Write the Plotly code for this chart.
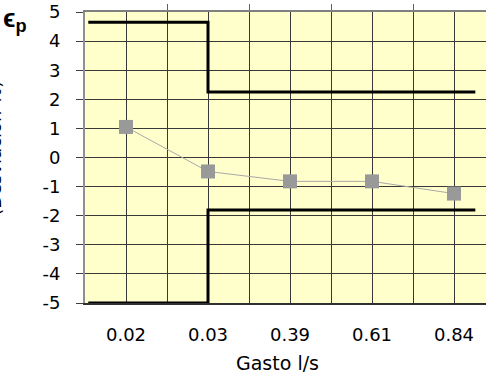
import plotly.graph_objects as go

# ---- data ----
categories = ["0.02", "0.03", "0.39", "0.61", "0.84"]
error_values = [1.05, -0.48, -0.82, -0.82, -1.24]

# limit (step) lines, x in category-index units
limit_x = [-0.46, 1.0, 1.0, 4.26]
upper_limit = [4.65, 4.65, 2.25, 2.25]
lower_limit = [-5.0, -5.0, -1.8, -1.8]

y_ticks = [-5, -4, -3, -2, -1, 0, 1, 2, 3, 4, 5]
y_ticktext = ["-5", "-4", "-3", "-2", "-1", "0", "1", "2", "3", "4", "5"]

FONT = "DejaVu Sans, Arial, sans-serif"
x_idx = list(range(len(categories)))
x_range = [-0.5, 4.39]
GRID = "#383838"

fig = go.Figure()
fig.add_trace(go.Scatter(x=limit_x, y=upper_limit, mode="lines",
                         line=dict(color="black", width=3), showlegend=False, hoverinfo="skip"))
fig.add_trace(go.Scatter(x=limit_x, y=lower_limit, mode="lines",
                         line=dict(color="black", width=3), showlegend=False, hoverinfo="skip"))
fig.add_trace(go.Scatter(x=x_idx, y=error_values, mode="lines+markers",
                         line=dict(color="#A8A8A8", width=1),
                         marker=dict(symbol="square", size=14, color="#999999",
                                     line=dict(color="#999999", width=0)),
                         showlegend=False))
# invisible trace on top axis so it renders
fig.add_trace(go.Scatter(x=[0], y=[0], xaxis="x2", mode="markers",
                         marker=dict(opacity=0), showlegend=False, hoverinfo="skip"))

fig.update_layout(
    width=486, height=376,
    margin=dict(l=85, r=0, t=12, b=73),
    paper_bgcolor="white",
    plot_bgcolor="#FFFFCC",
    font=dict(family=FONT, size=18, color="black"),
    xaxis=dict(
        range=x_range, tickvals=x_idx, ticktext=categories,
        showgrid=True, gridcolor=GRID, gridwidth=1,
        minor=dict(tickvals=[0.5, 1.5, 2.5, 3.5], showgrid=True, gridcolor=GRID, gridwidth=1),
        ticks="", ticklabelstandoff=14,
        showline=True, linecolor="#303030", linewidth=2,
        zeroline=False, automargin=False,
        tickfont=dict(size=18),
    ),
    xaxis2=dict(
        range=x_range, overlaying="x", side="top",
        tickvals=[0.5, 1.5, 2.5, 3.5], ticks="outside", ticklen=6, tickcolor="#606060",
        showticklabels=False, showgrid=False, zeroline=False,
        showline=True, linecolor="#808080", linewidth=2, automargin=False,
    ),
    yaxis=dict(
        range=[-5, 5], tickvals=y_ticks, ticktext=y_ticktext,
        showgrid=True, gridcolor=GRID, gridwidth=1,
        ticks="outside", ticklen=7, tickcolor="#404040",
        ticklabelstandoff=12,
        showline=True, linecolor="#909090", linewidth=2,
        zeroline=False, automargin=False,
        tickfont=dict(size=18),
    ),
    annotations=[
        dict(text="Gasto l/s", xref="paper", yref="paper", x=0.479, y=-0.206,
             xanchor="center", yanchor="middle", showarrow=False, font=dict(size=19)),
        dict(text="<b>ϵ<sub>p</sub></b>", xref="paper", yref="paper", x=-0.21, y=1.038,
             xanchor="left", yanchor="top", showarrow=False,
             font=dict(size=26, family="Liberation Sans, Arial, sans-serif")),
        dict(text="(Desviación %)", xref="paper", yref="paper", x=-0.2245, y=0.533,
             xanchor="center", yanchor="middle", showarrow=False, textangle=-90,
             font=dict(size=18)),
    ],
)

fig.write_html("out.html",
               config={"displayModeBar": False},
               post_script="document.body.style.margin='0';document.body.style.padding='0';")
